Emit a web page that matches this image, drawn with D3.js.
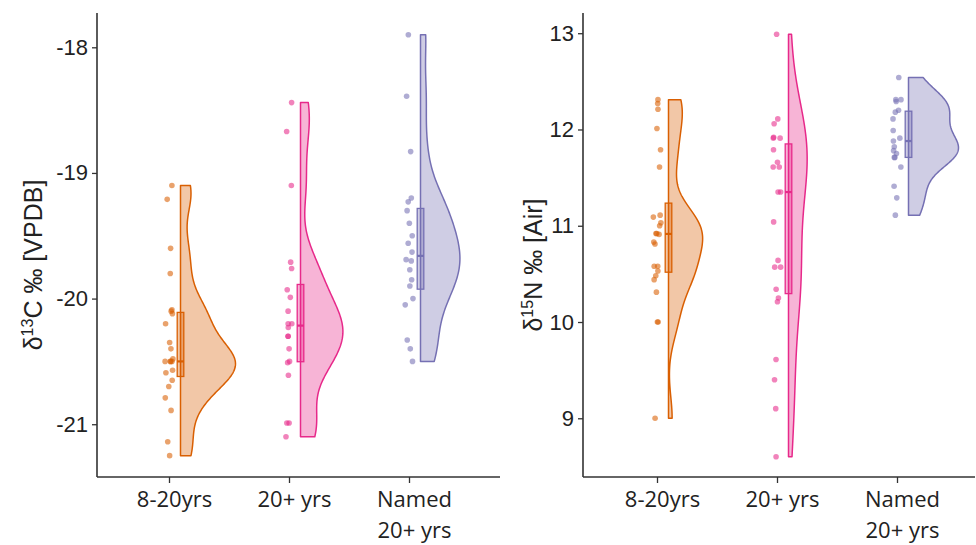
<!DOCTYPE html>
<html><head><meta charset="utf-8">
<script src="https://cdn.jsdelivr.net/npm/d3@7"></script>
<style>body{margin:0;background:#fff} svg{display:block}</style>
</head><body>
<script>
// ---------- data ----------
const categories = ["8-20yrs", "20+ yrs", "Named 20+ yrs"];
const categoryLines = [["8-20yrs"], ["20+ yrs"], ["Named", "20+ yrs"]];

const carbon_8_20 = [-19.10,-19.21,-19.60,-19.80,-20.09,-20.10,-20.12,-20.20,-20.35,-20.40,-20.48,-20.50,-20.50,-20.50,-20.50,-20.57,-20.59,-20.65,-20.70,-20.79,-20.89,-21.14,-21.25];
const carbon_20plus = [-18.44,-18.67,-19.10,-19.71,-19.76,-19.93,-19.99,-20.10,-20.20,-20.20,-20.23,-20.30,-20.30,-20.40,-20.50,-20.51,-20.61,-20.99,-20.99,-21.10];
const carbon_named = [-17.90,-18.39,-18.83,-19.20,-19.23,-19.30,-19.40,-19.50,-19.56,-19.63,-19.69,-19.70,-19.77,-19.85,-19.90,-20.00,-20.05,-20.33,-20.40,-20.50];

const nitrogen_8_20 = [12.31,12.27,12.21,12.01,11.79,11.61,11.11,11.09,11.03,11.00,10.92,10.92,10.91,10.83,10.81,10.58,10.58,10.53,10.48,10.44,10.31,10.00,10.00,9.00];
const nitrogen_20plus = [12.99,12.11,12.06,11.92,11.91,11.91,11.79,11.66,11.61,11.61,11.35,11.35,11.04,10.64,10.57,10.57,10.34,10.25,10.21,9.61,9.40,9.10,8.60];
const nitrogen_named = [12.54,12.31,12.31,12.29,12.20,12.18,12.11,11.99,11.91,11.88,11.82,11.78,11.75,11.71,11.71,11.61,11.41,11.29,11.11];

const carbonTicks = [-21, -20, -19, -18];
const nitrogenTicks = [9, 10, 11, 12, 13];
const carbonDomain = [-21.42, -17.727];
const nitrogenDomain = [8.39, 13.21];

const colors = ["#d95f02", "#e7298a", "#7570b3"];

// ---------- layout ----------
const W = 976, H = 545;
const svg = d3.select("body").append("svg").attr("width", W).attr("height", H);

const panels = [
  {series: [carbon_8_20, carbon_20plus, carbon_named], domain: carbonDomain, ticks: carbonTicks,
   axisX: 97, axisRight: 500, catRange: [169, 409], maxW: 55,
   title: ["δ", "13", "C ‰ [VPDB]"], titleX: 42},
  {series: [nitrogen_8_20, nitrogen_20plus, nitrogen_named], domain: nitrogenDomain, ticks: nitrogenTicks,
   axisX: 583, axisRight: 975, catRange: [657, 897], maxW: 50,
   title: ["δ", "15", "N ‰ [Air]"], titleX: 542}
];
const plotTop = 13, plotBottom = 477;
const violinOffset = 11.5, boxHalf = 3.3, bwAdjust = 0.9, labelShift = 5;

function kde(values) {
  const n = values.length;
  const sd = d3.deviation(values);
  const sorted = values.slice().sort(d3.ascending);
  const iqr = d3.quantileSorted(sorted, 0.75) - d3.quantileSorted(sorted, 0.25);
  let lo = Math.min(sd, iqr / 1.34);
  if (!(lo > 0)) lo = sd;
  const bw = bwAdjust * 0.9 * lo * Math.pow(n, -0.2);
  const mn = sorted[0], mx = sorted[n - 1];
  const pts = [];
  const N = 256;
  for (let i = 0; i <= N; i++) {
    const v = mn + (mx - mn) * i / N;
    let s = 0;
    for (const x of values) { const z = (v - x) / bw; s += Math.exp(-0.5 * z * z); }
    pts.push({v, d: s / (n * bw * Math.sqrt(2 * Math.PI))});
  }
  return pts;
}

const rng = d3.randomUniform.source(d3.randomLcg(0.4271))(-4, 4);

panels.forEach(p => {
  const y = d3.scaleLinear().domain(p.domain).range([plotBottom, plotTop]);
  const x = d3.scalePoint().domain(categories).range(p.catRange);
  const g = svg.append("g");

  const ya = g.append("g").attr("transform", `translate(${p.axisX},0)`)
    .call(d3.axisLeft(y).tickValues(p.ticks).tickSize(5).tickSizeOuter(0).tickPadding(4)
      .tickFormat(d => String(d)));
  ya.select(".domain").remove();
  ya.selectAll("line").attr("stroke", "#333").attr("stroke-width", 1.3);
  ya.selectAll("text").attr("font-family", "'Liberation Sans', Arial, sans-serif")
    .attr("font-size", 22).attr("fill", "#222");

  const xa = g.append("g").attr("transform", `translate(0,${plotBottom})`)
    .call(d3.axisBottom(x).tickSize(6).tickSizeOuter(0).tickFormat(""));
  xa.select(".domain").remove();
  xa.selectAll("line").attr("stroke", "#333").attr("stroke-width", 1.3);
  xa.selectAll(".tick").each(function(c, i) {
    const t = d3.select(this).append("text")
      .attr("font-family", "'Open Sans', sans-serif").attr("font-size", 22)
      .attr("fill", "#222").attr("text-anchor", "middle");
    categoryLines[i].forEach((ln, j) => {
      t.append("tspan").attr("x", labelShift).attr("y", 29.7 + j * 31.6).text(ln);
    });
  });

  g.append("line").attr("x1", p.axisX).attr("x2", p.axisX).attr("y1", plotTop).attr("y2", plotBottom)
    .attr("stroke", "#333").attr("stroke-width", 1.6);
  g.append("line").attr("x1", p.axisX).attr("x2", p.axisRight).attr("y1", plotBottom).attr("y2", plotBottom)
    .attr("stroke", "#333").attr("stroke-width", 1.6);

  const tt = g.append("text")
    .attr("transform", `translate(${p.titleX},265) rotate(-90)`)
    .attr("text-anchor", "middle")
    .attr("font-family", "'Liberation Sans', Arial, sans-serif").attr("font-size", 25).attr("fill", "#222");
  tt.append("tspan").text(p.title[0]);
  tt.append("tspan").attr("dy", -9).attr("font-size", 16).text(p.title[1]);
  tt.append("tspan").attr("dy", 9).text(p.title[2]);

  const dens = p.series.map(kde);
  const maxD = d3.max(dens, a => d3.max(a, d => d.d));
  const wScale = d3.scaleLinear().domain([0, maxD]).range([0, p.maxW]);

  p.series.forEach((vals, i) => {
    const cx = x(categories[i]);
    const base = cx + violinOffset;
    const col = colors[i];
    const area = d3.area().y(d => y(d.v)).x0(base).x1(d => base + wScale(d.d));
    g.append("path").datum(dens[i]).attr("d", area)
      .attr("fill", col).attr("fill-opacity", 0.35)
      .attr("stroke", col).attr("stroke-width", 1.5).attr("stroke-linejoin", "round");

    const s = vals.slice().sort(d3.ascending);
    const q1 = d3.quantileSorted(s, 0.25), q3 = d3.quantileSorted(s, 0.75), med = d3.quantileSorted(s, 0.5);
    g.append("rect").attr("x", base - boxHalf).attr("width", boxHalf * 2)
      .attr("y", y(q3)).attr("height", y(q1) - y(q3))
      .attr("fill", col).attr("fill-opacity", 0.35).attr("stroke", col).attr("stroke-width", 1.3);
    g.append("line").attr("x1", base - boxHalf).attr("x2", base + boxHalf)
      .attr("y1", y(med)).attr("y2", y(med)).attr("stroke", col).attr("stroke-width", 2.2);

    g.append("g").selectAll("circle").data(vals).join("circle")
      .attr("cx", () => cx + rng()).attr("cy", d => y(d)).attr("r", 2.8)
      .attr("fill", col).attr("fill-opacity", 0.58);
  });
});
</script>
</body></html>
